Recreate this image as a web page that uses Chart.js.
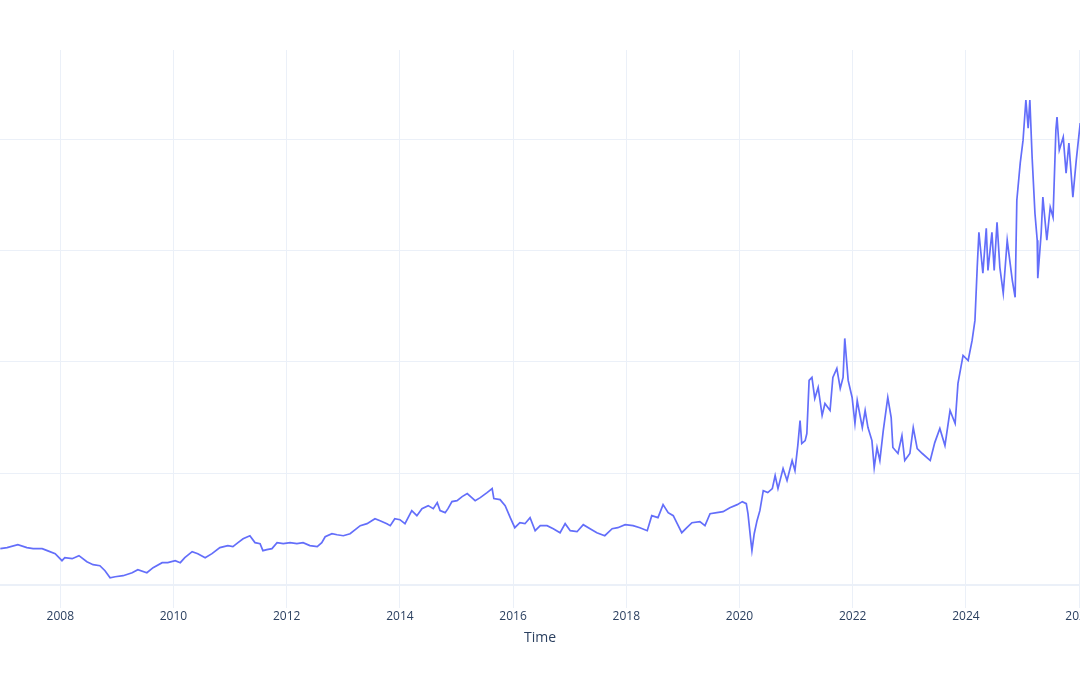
<!DOCTYPE html>
<html>
<head>
<meta charset="utf-8">
<script src="https://cdn.jsdelivr.net/npm/chart.js@4"></script>
<style>
  html, body { margin: 0; padding: 0; background: #fff; overflow: hidden; }
  #wrap { position: absolute; left: 0; top: 0; width: 1120px; height: 675px; }
</style>
</head>
<body>
<div id="wrap"><canvas id="myChart"></canvas></div>
<script>
// fechas en años decimales y valores
var fechas = [
  2006.94, 2007.06, 2007.25, 2007.41, 2007.52, 2007.68, 2007.77, 2007.91, 2008.03, 2008.08,
  2008.21, 2008.33, 2008.47, 2008.58, 2008.70, 2008.79, 2008.88, 2008.97, 2009.11, 2009.27,
  2009.37, 2009.53, 2009.64, 2009.80, 2009.90, 2010.03, 2010.12, 2010.20, 2010.33, 2010.43,
  2010.56, 2010.68, 2010.82, 2010.96, 2011.05, 2011.14, 2011.23, 2011.35, 2011.44, 2011.53,
  2011.58, 2011.65, 2011.74, 2011.83, 2011.94, 2012.06, 2012.18, 2012.29, 2012.41, 2012.54,
  2012.62, 2012.68, 2012.80, 2012.89, 2013.00, 2013.12, 2013.30, 2013.42, 2013.56, 2013.65,
  2013.77, 2013.83, 2013.91, 2014.00, 2014.09, 2014.21, 2014.30, 2014.39, 2014.50, 2014.59,
  2014.66, 2014.71, 2014.80, 2014.85, 2014.92, 2015.01, 2015.10, 2015.19, 2015.27, 2015.33,
  2015.42, 2015.54, 2015.63, 2015.66, 2015.77, 2015.86, 2015.95, 2016.03, 2016.12, 2016.21,
  2016.30, 2016.39, 2016.48, 2016.60, 2016.71, 2016.83, 2016.92, 2017.01, 2017.13, 2017.24,
  2017.36, 2017.48, 2017.62, 2017.75, 2017.85, 2017.98, 2018.12, 2018.24, 2018.37, 2018.45,
  2018.56, 2018.65, 2018.74, 2018.83, 2018.90, 2018.98, 2019.07, 2019.16, 2019.30, 2019.39,
  2019.48, 2019.60, 2019.71, 2019.83, 2019.96, 2020.05, 2020.12, 2020.15, 2020.20, 2020.22,
  2020.26, 2020.31, 2020.36, 2020.42, 2020.50, 2020.58, 2020.63, 2020.68, 2020.77, 2020.84,
  2020.93, 2020.98, 2021.03, 2021.07, 2021.10, 2021.16, 2021.19, 2021.23, 2021.28, 2021.33,
  2021.39, 2021.46, 2021.51, 2021.60, 2021.65, 2021.72, 2021.78, 2021.83, 2021.86, 2021.92,
  2021.99, 2022.04, 2022.08, 2022.17, 2022.22, 2022.27, 2022.34, 2022.38, 2022.43, 2022.48,
  2022.54, 2022.62, 2022.68, 2022.71, 2022.80, 2022.87, 2022.92, 2023.01, 2023.07, 2023.14,
  2023.23, 2023.37, 2023.45, 2023.54, 2023.63, 2023.72, 2023.81, 2023.86, 2023.95, 2024.04,
  2024.11, 2024.16, 2024.20, 2024.23, 2024.30, 2024.36, 2024.39, 2024.46, 2024.50, 2024.55,
  2024.60, 2024.66, 2024.73, 2024.82, 2024.87, 2024.90, 2024.96, 2025.01, 2025.06, 2025.10,
  2025.13, 2025.17, 2025.22, 2025.26, 2025.27, 2025.33, 2025.36, 2025.43, 2025.49, 2025.54,
  2025.59, 2025.61, 2025.65, 2025.72, 2025.77, 2025.82, 2025.89, 2025.95, 2026.02
];
var valores = [
  32.4, 33.3, 36.0, 33.3, 32.4, 32.4, 30.6, 27.9, 21.6, 24.3,
  23.4, 26.1, 20.7, 18.0, 17.1, 12.6, 6.3, 7.2, 8.1, 10.8,
  13.5, 10.8, 15.3, 19.8, 19.8, 21.6, 19.8, 24.3, 29.7, 27.9,
  24.3, 27.9, 33.3, 35.1, 34.2, 37.8, 41.3, 44.0, 37.8, 36.9,
  30.6, 31.5, 32.4, 37.8, 36.9, 37.8, 36.9, 37.8, 35.1, 34.2,
  37.8, 43.1, 45.8, 44.9, 44.0, 45.8, 53.0, 54.8, 59.3, 57.5,
  54.8, 53.0, 59.3, 58.4, 54.8, 66.5, 62.0, 68.3, 71.0, 68.3,
  73.7, 66.5, 64.7, 68.3, 74.6, 75.5, 79.1, 81.8, 78.2, 75.5,
  78.2, 82.7, 86.3, 77.3, 76.4, 71.0, 60.2, 51.2, 55.7, 54.8,
  60.2, 48.5, 53.0, 53.0, 50.3, 46.7, 54.8, 48.5, 47.6, 53.9,
  50.3, 46.7, 44.0, 50.3, 51.2, 53.9, 53.0, 51.2, 48.5, 62.0,
  60.2, 71.9, 64.7, 62.0, 54.8, 46.7, 51.2, 55.7, 56.6, 53.0,
  63.8, 64.7, 65.6, 69.2, 71.9, 74.6, 72.8, 63.8, 39.6, 30.6,
  45.8, 57.5, 66.5, 84.5, 82.7, 86.3, 98.0, 86.3, 104.3, 93.5,
  111.5, 102.5, 124.9, 147.4, 126.7, 129.4, 135.7, 183.4, 186.1, 167.2,
  177.1, 151.9, 162.7, 156.4, 186.1, 194.2, 176.2, 186.1, 221.1, 183.4,
  168.1, 144.7, 165.4, 141.1, 156.4, 141.1, 129.4, 105.2, 123.2, 111.5,
  138.4, 168.1, 150.1, 123.2, 117.8, 133.9, 111.5, 117.8, 141.1, 122.2,
  117.8, 111.5, 127.6, 140.2, 124.9, 156.4, 144.7, 180.7, 205.8, 201.3,
  219.3, 237.3, 284.9, 316.4, 279.6, 320.0, 282.2, 316.4, 282.2, 325.4,
  284.9, 261.6, 309.2, 273.3, 258.0, 345.2, 378.4, 399.1, 435.1, 409.9,
  435.1, 383.8, 333.5, 309.2, 275.1, 315.5, 347.9, 309.2, 338.9, 329.9,
  408.1, 419.8, 390.1, 401.8, 369.5, 396.4, 347.9, 381.1, 414.4
];
var anosTicks = [2008, 2010, 2012, 2014, 2016, 2018, 2020, 2022, 2024, 2026];
var valoresTicks = [0, 100, 200, 300, 400];

var puntos = fechas.map(function (f, i) { return { x: f, y: valores[i] }; });

var ctx = document.getElementById('myChart').getContext('2d');
var myChart = new Chart(ctx, {
  type: 'line',
  data: {
    datasets: [{
      label: 'Precio',
      data: puntos,
      borderColor: '#636efa',
      borderWidth: 1.7,
      pointRadius: 0,
      tension: 0,
      fill: false
    }]
  },
  options: {
    responsive: true,
    maintainAspectRatio: false,
    animation: false,
    layout: { padding: { left: 0, right: 40, top: 50, bottom: 25 } },
    plugins: {
      legend: { display: false },
      tooltip: { enabled: false }
    },
    scales: {
      x: {
        type: 'linear',
        min: 2006.935,
        max: 2026.016,
        afterBuildTicks: function (axis) {
          axis.ticks = anosTicks.map(function (v) { return { value: v }; });
        },
        grid: { color: '#EBF0F8', lineWidth: 1, drawTicks: false },
        border: { display: false },
        ticks: {
          padding: 2,
          color: '#2a3f5f',
          font: { family: '"Open Sans", sans-serif', size: 12 },
          maxRotation: 0,
          autoSkip: false,
          callback: function (v) { return String(v); }
        },
        title: {
          display: true,
          text: 'Time',
          color: '#2a3f5f',
          font: { family: '"Open Sans", sans-serif', size: 14 },
          padding: { top: 3, bottom: 4 }
        }
      },
      y: {
        min: -20.7,
        max: 480,
        afterBuildTicks: function (axis) {
          axis.ticks = valoresTicks.map(function (v) { return { value: v }; });
        },
        grid: {
          color: '#EBF0F8',
          drawTicks: false,
          lineWidth: function (c) { return c.tick && c.tick.value === 0 ? 2 : 1; }
        },
        border: { display: false },
        ticks: { display: false }
      }
    }
  }
});
</script>
</body>
</html>
